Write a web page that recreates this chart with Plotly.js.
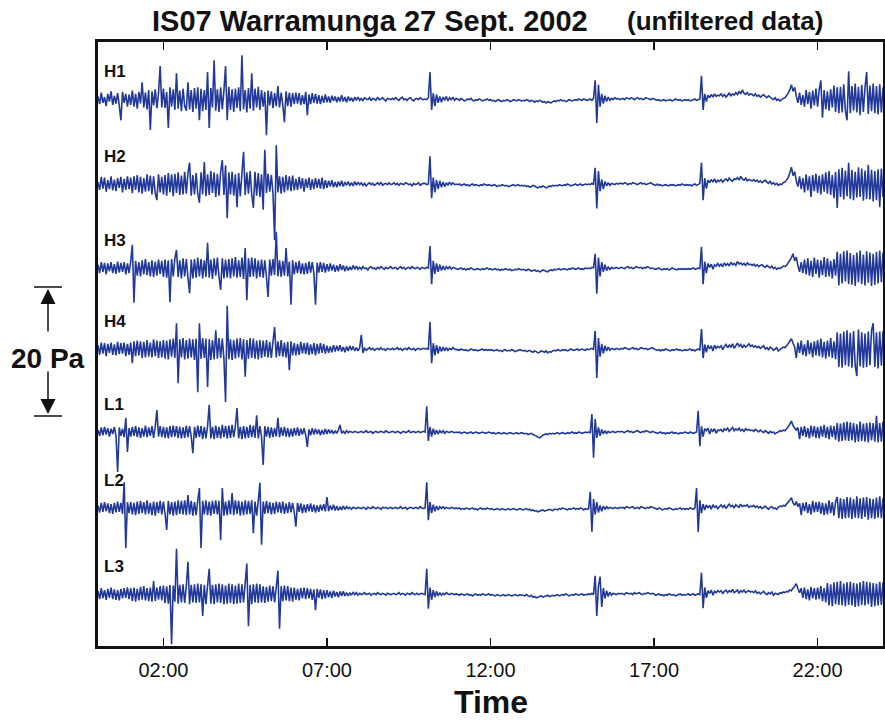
<!DOCTYPE html>
<html><head><meta charset="utf-8">
<script src="https://cdn.plot.ly/plotly-3.0.1.min.js"></script>
<style>html,body{margin:0;padding:0;background:#fff}#chart{width:885px;height:722px}</style>
</head><body><div id="chart"></div>
<script>
const channels = ['H1','H2','H3','H4','L1','L2','L3'];
const tickVals = [2,7,12,17,22];
const tickText = ['02:00','07:00','12:00','17:00','22:00'];
// Pressure traces: one row per hour (row r spans r:00 to r+1:00), values in units of 0.1 Pa
const h1 = [
[4,-8,10,-6,3,-11,8,-4,12,-9,5,-7,9,-10,-33,11,-6,8,-12,7],
[-9,13,-12,8,-15,11,-7,26,-13,10,-16,14,-48,12,-10,15,-14,9,51,-13],
[16,-14,11,-45,18,-12,15,-17,40,-15,13,-19,16,-11,-18,26,-16,14,-20,17],
[-15,18,-33,16,-19,14,-17,42,-45,17,-13,60,-18,15,-20,18,-16,13,51,-33],
[19,-17,15,-20,16,-14,18,-19,68,-16,14,-21,17,-15,40,-18,16,-13,19,-17],
[14,-12,11,-56,13,-10,12,-14,9,-11,20,-13,10,-9,-36,12,-11,10,-12,9],
[-8,10,-7,9,-9,6,-8,11,-25,7,-8,9,-6,8,-7,6,-8,5,-6,7],
[-5,4,-6,5,-3,4,-5,3,-4,6,-4,3,-5,4,-3,2,-4,3,-2,3],
[-2,1,-3,2,0,-1,2,-2,1,0,-2,3,-1,0,2,-1,-3,1,0,-1],
[1,-1,2,0,-2,1,3,-1,0,-2,1,2,-1,-3,0,1,-1,2,0,-1],
[0,-1,2,42,-17,9,-11,7,-6,4,-5,3,-2,4,-3,2,-1,3,-2,1],
[0,-2,1,-1,-3,-2,0,-1,1,-2,-3,-1,-2,0,-1,-3,-2,-1,0,-2],
[-1,-3,-2,-4,-2,-1,-3,-4,-2,-3,-1,-2,-4,-3,-1,-2,-3,-1,-2,-3],
[-2,-3,-1,-2,-4,-2,-3,-5,-3,-4,-2,-3,-5,-4,-6,-4,-5,-6,-4,-3],
[-4,-2,-3,-1,-3,-2,-4,-3,-1,-2,-3,-2,-1,-2,0,-1,-2,0,-1,-2],
[-1,0,-2,1,29,-37,22,-12,8,-7,5,-4,3,-2,1,-1,2,0,1,-1],
[0,1,-1,2,1,0,2,1,-1,1,2,0,1,-1,0,2,1,0,-1,1],
[0,-1,-2,-1,-3,-2,-1,-3,-2,-2,-1,-3,-2,0,-1,-2,-1,-3,-2,-1],
[-2,-1,-3,-2,-1,0,-2,-1,0,36,-17,8,-4,6,2,7,3,8,4,6],
[5,8,4,7,3,6,9,5,8,6,10,7,12,8,14,9,7,10,6,8],
[7,5,8,4,6,3,5,7,4,2,5,3,1,-1,2,-2,0,-3,-1,1],
[2,5,9,14,22,12,18,4,-6,10,-9,6,-12,14,-8,11,-15,13,-10,16],
[-12,15,29,-29,14,-16,12,-18,15,-13,21,-20,18,-22,19,-21,23,-19,-33,43],
[-22,20,-18,24,-21,19,-25,22,-20,18,42,-23,21,-19,24,-22,20,-24,23,-21],
[18]];
const h2 = [
[3,-9,11,-7,10,-12,6,-8,12,-10,7,-11,9,-6,11,-13,8,-9,12,-8],
[10,-14,12,-9,14,-13,11,-15,9,-12,15,-11,13,-16,12,-14,-25,15,-13,11],
[-16,14,-18,17,-13,15,-19,16,-14,18,-17,13,-16,19,-15,17,33,-18,14,-16],
[17,-15,-29,18,-16,34,-19,15,-17,20,-14,18,-20,16,-18,19,37,-17,29,-53],
[18,-16,19,-18,15,-36,17,-19,16,50,-17,18,-15,20,-16,-37,19,-18,17,-20],
[15,-40,53,-14,16,-12,14,-15,-87,60,-13,12,-15,11,-13,14,-10,12,-11,13],
[-10,8,-9,11,-7,9,-12,8,-6,10,-9,7,-8,9,-6,8,-7,10,-8,6],
[-6,5,-4,6,-5,3,-5,4,-3,5,-4,3,-2,4,-3,2,-3,4,-2,3],
[-1,2,-2,1,-3,0,2,-1,1,-2,0,2,-1,3,-2,0,1,-1,2,-1],
[0,2,-1,1,-2,1,0,-1,2,1,-1,0,-3,1,-1,0,2,-2,0,1],
[1,-1,0,43,-22,10,-13,6,-8,5,-5,3,-4,2,-2,3,-1,2,-1,0],
[-1,0,-2,-1,0,-2,-1,-3,-1,0,-2,-1,-2,-3,-1,-2,0,-1,-2,-1],
[-2,-3,-1,-2,-4,-2,-3,-1,-2,-3,-2,-4,-3,-2,-1,-3,-2,-1,-3,-2],
[-3,-2,-4,-3,-5,-4,-2,-3,-5,-6,-4,-5,-3,-4,-6,-5,-3,-4,-2,-3],
[-2,-3,-1,-2,-3,-1,-2,0,-1,-3,-2,-1,0,-2,-1,0,-2,-1,0,-1],
[0,-1,1,-1,25,-38,20,-11,7,-8,4,-3,2,-2,1,0,-1,1,0,1],
[1,0,2,1,-1,1,0,2,1,0,-1,1,2,0,1,-1,0,1,2,0],
[-1,-2,0,-2,-1,-3,-2,-1,-2,-3,-1,-2,-1,-3,-2,-1,-2,0,-1,-2],
[-1,-2,-1,-3,-1,0,-2,-1,1,33,-25,9,-7,6,2,7,3,8,2,6],
[4,7,3,6,8,5,9,6,4,8,7,10,6,12,8,6,9,5,7,6],
[5,7,4,6,3,5,2,4,6,3,1,4,0,2,-1,1,-2,0,-1,2],
[3,6,10,17,26,13,19,5,-4,12,-8,9,-13,15,-10,12,-20,14,-11,16],
[-14,13,-16,15,-12,18,-15,20,-17,14,-22,19,-37,23,-20,25,-24,21,-19,33],
[-23,22,-25,19,-21,26,-20,24,-26,21,-23,30,-24,22,-27,20,-25,23,-36,24],
[-20]];
const h3 = [
[5,-8,9,-6,8,-10,7,-5,9,-8,6,-9,10,-7,8,-6,9,-10,7,-8],
[10,36,-54,11,-12,9,-13,12,-10,14,-11,9,-13,12,-14,10,-12,13,-9,11],
[-14,13,-15,12,-53,14,-13,15,28,-14,12,-16,15,-13,14,-15,-39,13,-16,14],
[-15,16,-13,14,-16,12,-14,39,-15,13,-17,15,-12,16,-14,-34,15,-16,13,-15],
[14,-16,15,-13,17,-15,12,-14,16,-17,31,-50,15,-14,16,-13,15,-16,12,-14],
[13,-15,12,-14,-45,13,-12,14,-11,56,-13,12,-14,11,-12,31,-13,10,-57,12],
[-10,9,-8,11,-9,7,-10,8,-9,10,-7,9,-8,-57,8,-7,9,-6,8,-7],
[6,-5,7,-4,5,-6,4,-5,6,-3,4,-5,3,-4,2,-3,4,-2,3,-2],
[1,-2,2,-1,0,-3,1,2,-1,0,-2,1,-1,2,0,-2,1,-1,0,2],
[-1,0,1,-2,0,2,-1,1,-2,0,1,-1,2,0,-1,1,0,-2,1,0],
[-1,1,0,34,-25,11,-9,7,-6,5,-4,3,-3,2,-1,2,-2,1,0,-1],
[-2,-1,0,-2,-1,-3,-1,-2,0,-1,-3,-2,-1,-2,-3,-1,-2,-1,0,-2],
[-1,-3,-2,-1,-3,-2,-4,-2,-3,-1,-2,-3,-2,-4,-3,-2,-3,-1,-2,-3],
[-2,-3,-4,-2,-3,-5,-4,-3,-5,-4,-6,-5,-3,-4,-5,-6,-4,-3,-4,-2],
[-3,-2,-1,-3,-2,-1,-2,-3,-1,-2,0,-1,-2,-1,0,-2,-1,-2,0,-1],
[0,-1,1,0,22,-40,16,-13,9,-6,5,-4,2,-3,1,-1,0,1,-1,0],
[1,0,-1,1,2,0,1,-1,0,2,1,0,1,-1,1,0,2,1,-1,0],
[-1,-2,-1,0,-2,-3,-1,-2,-1,-3,-2,0,-1,-2,-3,-1,-2,-1,-2,-1],
[-2,-1,-2,-1,0,-2,-1,0,-1,33,-25,10,-8,7,1,6,-2,5,3,7],
[3,6,2,8,4,7,3,9,5,7,4,10,6,8,5,7,4,8,5,6],
[4,6,3,5,2,4,5,3,1,4,2,0,3,-1,1,-2,0,-1,1,3],
[2,4,8,12,16,22,11,17,3,-6,9,-8,13,-10,15,-12,11,-14,16,-9],
[13,-15,12,-11,17,-14,15,-13,11,-16,14,-12,25,-27,22,-24,26,-21,27,-25],
[23,-26,20,-28,24,-22,27,-25,21,-27,26,-23,24,-28,22,-26,25,-24,27,-22],
[24]];
const h4 = [
[6,-9,10,-7,9,-11,8,-6,10,-9,7,-10,11,-8,9,-7,10,-11,8,-9],
[10,-22,12,-11,13,-10,12,-14,11,-13,14,-12,10,-13,15,-11,13,-14,12,-13],
[14,-15,13,-16,15,-12,16,-14,40,-53,15,-13,17,-16,14,-15,16,-13,15,-17],
[16,-67,40,-15,17,-14,16,-59,15,-17,14,-16,29,-15,17,-14,16,-15,-82,67],
[-16,15,-17,14,-15,16,-13,17,-16,15,-43,14,-15,17,-14,16,-15,13,-16,14],
[-14,13,-12,14,-13,11,-14,12,34,-13,12,-11,14,-12,10,-13,11,-33,12,-10],
[9,-10,8,-9,11,-7,9,-8,10,-9,7,-8,9,-10,8,-7,9,-6,8,-7],
[5,-6,4,-5,6,-4,5,-3,6,-4,3,-5,4,-3,5,-2,4,-3,2,-3],
[2,22,-6,1,-2,0,2,-1,1,-2,0,1,-1,2,-1,0,-2,1,0,-1],
[1,-1,0,2,-1,1,-2,0,1,-1,2,0,-1,1,-2,0,1,-1,0,1],
[0,1,-1,42,-22,9,-10,6,-7,4,-4,3,-3,2,-2,1,-1,2,0,-1],
[-1,-2,0,-1,-2,-1,-3,-2,0,-1,-2,-1,-3,-2,-1,0,-2,-1,-2,-1],
[-2,-1,-3,-2,-1,-3,-2,-4,-2,-1,-3,-2,-3,-1,-2,-4,-3,-2,-1,-2],
[-3,-2,-4,-3,-2,-4,-5,-3,-4,-6,-5,-3,-4,-5,-3,-6,-4,-5,-3,-2],
[-3,-1,-2,-3,-1,-2,-1,-3,-2,0,-1,-2,-1,0,-2,-1,0,-1,-2,0],
[-1,0,1,-1,28,-45,17,-12,8,-7,5,-3,3,-2,1,0,-1,1,0,-1],
[1,0,2,1,0,-1,1,2,0,1,-1,0,2,1,0,1,-1,0,1,2],
[0,-1,-2,-1,-3,-1,-2,0,-1,-2,-3,-1,-2,-1,0,-2,-1,-3,-2,-1],
[-2,-1,0,-2,-1,-3,-1,0,-2,31,-14,7,-5,6,0,5,-3,6,1,4],
[2,5,-1,4,7,2,6,3,8,1,5,9,4,7,2,6,3,5,8,4],
[6,3,5,2,4,1,3,5,0,2,-1,3,1,-2,0,2,-3,-1,1,3],
[2,5,8,12,16,9,3,-14,10,-6,13,-9,7,-11,14,-8,10,-13,12,-10],
[14,-11,16,-13,11,-15,13,-12,17,-14,12,-16,26,-28,24,-29,27,-25,29,-27],
[25,-29,28,-26,-42,30,-27,26,-29,24,-28,27,-25,29,40,-28,26,-30,27,-26],
[28]];
const l1 = [
[3,-6,7,-5,8,-4,6,-7,5,-3,8,-6,-62,7,-6,5,-8,22,-31,6],
[-7,8,-6,9,-8,7,-9,6,-7,10,-8,7,-6,9,-9,8,34,-7,9,-8],
[8,-9,7,-10,9,-8,10,-7,9,-9,8,-10,7,-9,10,-8,9,-7,-33,8],
[-9,10,-8,9,-11,8,-10,9,42,-10,8,-11,10,-9,8,-10,11,-8,9,-10],
[10,-9,11,-8,9,37,-10,8,-11,9,-10,8,-9,11,-8,10,-9,26,-10,9],
[-8,-51,9,-7,8,-9,7,-8,6,-7,22,-8,7,-6,8,-7,6,-8,5,-7],
[6,-5,7,-6,5,-4,6,-5,-23,4,-5,6,-4,5,-3,4,-5,3,-4,5],
[-3,4,-2,3,-3,2,-2,3,11,-2,1,-2,2,-1,1,0,-1,1,0,-1],
[0,1,-1,0,2,-1,0,1,-2,0,1,-1,0,1,0,-1,2,0,-1,0],
[1,0,-1,1,0,-2,0,1,-1,0,2,-1,0,1,-1,0,1,-1,0,1],
[0,40,-14,8,-7,5,-4,3,-3,2,-1,2,-2,1,0,-1,1,0,-1,0],
[-1,0,-2,-1,0,-1,-2,-1,0,-2,-1,0,-1,-2,-1,0,-1,-2,-1,0],
[-1,-2,-1,-3,-2,-1,-2,-3,-1,-2,-3,-2,-1,-2,-3,-2,-1,-3,-2,-1],
[-2,-3,-2,-4,-3,-2,-4,-5,-6,-8,-9,-7,-5,-4,-3,-4,-2,-3,-2,-3],
[-2,-1,-3,-2,-1,-2,-3,-1,-2,-1,0,-2,-1,-2,0,-1,-2,-1,0,-1],
[0,-1,28,-40,20,-9,7,-6,4,-3,2,-2,1,-1,0,1,-1,0,1,0],
[1,0,-1,1,2,0,1,-1,0,1,2,0,-1,1,0,2,1,0,-1,1],
[0,-1,-2,-1,0,-2,-1,-3,-1,-2,-1,0,-2,-1,-2,-3,-1,-2,-1,0],
[-1,-2,0,-1,-2,-1,0,33,-22,9,-7,5,2,6,-3,4,1,5,-2,3],
[2,4,0,5,3,6,1,4,7,2,5,3,6,2,4,1,5,3,4,2],
[3,1,4,2,0,3,1,-1,2,0,-2,1,-1,0,-3,-1,0,2,1,3],
[2,5,8,12,17,10,6,3,7,-11,8,-6,9,-8,6,-10,10,-7,9,-9],
[8,-10,9,-7,11,-9,8,-11,10,-8,9,-12,14,-15,13,-14,15,-13,16,-14],
[15,-13,14,-16,12,-15,16,-14,13,-15,14,-16,15,-13,14,-15,25,-16,14,-15],
[16]];
const l2 = [
[4,-7,8,-6,9,-5,7,-8,6,-9,8,-7,10,-6,8,-9,40,-62,9,-8],
[9,-10,8,-11,10,-9,11,-8,9,-10,12,-9,8,-11,10,-12,9,-8,11,-10],
[10,-9,-34,11,-10,9,-12,10,-11,12,-9,11,-10,12,-11,20,-10,11,-12,9],
[-11,12,31,-62,11,-10,12,-11,10,-12,11,-9,12,-10,11,-50,31,-12,10,-11],
[12,-10,23,-11,12,-9,11,-12,10,-11,12,-10,11,-9,12,-39,10,-12,11,39],
[-57,10,-9,11,-8,9,-10,8,-9,10,-7,9,-8,10,-9,7,-8,9,-7,8],
[-7,-29,8,-6,7,-8,5,-7,6,-5,7,-6,5,-7,4,-6,5,-4,6,-5],
[17,-5,4,-3,5,-4,3,-4,2,-3,3,-2,2,-1,1,-2,1,0,-1,1],
[0,-1,1,0,-2,1,0,-1,2,0,-1,1,0,-2,1,0,1,-1,0,1],
[-1,0,1,-1,0,2,-1,0,1,-2,0,1,0,-1,1,0,-1,2,0,-1],
[0,40,-19,9,-8,5,-5,3,-3,2,-1,2,-1,1,0,-1,1,0,-1,0],
[-1,0,-2,-1,-2,0,-1,-2,-1,0,-2,-1,-3,-1,0,-2,-1,-2,0,-1],
[-2,-1,-3,-2,-1,-2,-3,-1,-2,-3,-2,-1,-3,-2,-1,-2,-3,-2,-1,-2],
[-3,-2,-1,-3,-2,-4,-3,-5,-4,-6,-5,-4,-3,-5,-4,-3,-2,-3,-4,-2],
[-2,-3,-1,-2,0,-1,-2,-3,-1,-2,-1,0,-2,-1,-2,0,-1,-3,-1,-2],
[-1,25,-37,14,-10,9,-7,4,-5,3,-2,2,-1,1,0,-1,1,0,-1,1],
[0,1,-1,2,1,0,1,2,-1,0,1,-1,2,1,0,-1,1,0,2,1],
[0,-1,-2,0,-1,-3,-2,-1,-2,0,-1,-2,-3,-1,-2,-1,0,-2,-1,-2],
[-1,-2,0,-1,-2,0,31,-37,12,-8,6,-3,5,0,4,-2,5,1,3,-1],
[2,5,1,4,-1,3,6,2,4,0,5,3,1,6,2,4,3,5,1,3],
[2,4,1,3,0,2,-1,1,3,0,-2,1,2,-1,0,-2,1,3,2,4],
[3,6,9,12,16,8,4,10,2,7,-11,8,-5,9,-8,6,-10,11,-7,9],
[-6,10,-9,8,-11,7,-10,12,-8,9,-12,10,17,-16,15,-17,14,-16,17,-15],
[16,-17,14,-15,18,-16,15,-17,16,-14,17,-18,15,-16,14,-17,16,-15,18,-16],
[15]];
const l3 = [
[5,-8,9,-7,6,-9,8,-6,10,-8,7,-9,6,-10,8,-7,9,-6,10,-8],
[9,-11,10,-12,8,-10,11,-9,12,-10,9,-11,10,-12,20,-11,10,-9,12,-10],
[13,-14,12,-15,14,-78,13,-12,70,-15,14,-13,15,-14,12,50,-16,14,-13,15],
[-14,16,-13,15,-34,14,-16,13,39,-15,14,-16,15,-13,16,-14,15,-16,13,-15],
[16,-14,15,-16,13,-15,16,-14,15,-13,16,47,-50,14,-16,15,-13,16,-14,15],
[-13,12,-14,11,-12,13,-11,12,-13,11,36,-54,12,-11,13,-10,12,-11,10,-12],
[10,-9,8,-10,9,-7,10,-8,9,-7,8,-9,7,-25,8,-6,7,-8,6,-7],
[6,-5,4,-6,5,-4,3,-5,4,-3,4,-3,2,-3,2,-2,3,-1,2,-2],
[1,-1,0,2,-1,0,1,-2,0,1,-1,2,0,-1,1,0,-2,1,0,-1],
[0,1,-1,0,2,-1,1,0,-2,1,0,-1,2,0,-1,1,-1,0,1,0],
[-1,39,-23,10,-9,6,-5,4,-3,2,-2,1,-1,2,0,-1,1,0,-1,0],
[-1,-2,0,-1,-2,-1,0,-2,-1,-3,-1,0,-2,-1,-2,0,-1,-2,-1,0],
[-2,-1,-2,-3,-1,-2,-3,-2,-1,-3,-2,-1,-2,-3,-2,-1,-2,-3,-1,-2],
[-2,-3,-1,-3,-4,-2,-5,-4,-6,-5,-4,-3,-5,-4,-3,-2,-4,-3,-2,-3],
[-2,-1,-3,-2,-1,-2,0,-1,-3,-2,-1,-2,0,-1,-2,-1,0,-2,-1,-1],
[0,-1,1,-1,28,-34,12,27,-20,9,-7,5,-4,3,-2,1,0,-1,1,0],
[1,0,-1,2,1,0,1,-1,2,0,1,2,0,-1,1,0,2,1,0,1],
[0,-2,-1,0,-2,-1,-3,-1,-2,0,-1,-2,-1,-3,-2,-1,0,-2,-1,-2],
[-1,0,-2,-1,0,-2,-1,0,-1,33,-22,10,-6,5,1,6,-2,4,2,5],
[3,5,1,4,6,2,5,3,7,2,4,6,1,5,3,6,2,4,5,3],
[4,2,5,1,3,0,2,4,1,-1,2,0,3,-2,1,0,-1,2,1,3],
[2,4,3,6,5,9,12,16,8,2,9,-6,10,-8,7,-10,11,-7,9,-9],
[10,-8,12,-11,9,-13,17,-18,15,-19,18,-16,19,-17,20,-18,16,-19,18,-17],
[19,-18,17,-20,16,-19,18,-17,20,-18,19,-16,18,-20,17,-19,16,-18,19,-17],
[18]];

const series = [h1,h2,h3,h4,l1,l2,l3];
const offsets = [0,-13.18,-26.2,-38.76,-51.63,-63.41,-76.74]; // stacking of channels, Pa
const lineColor = '#22399a';

const traces = series.map((rows,k)=>{
  const x=[], y=[];
  rows.forEach((row,r)=>row.forEach((v,j)=>{ x.push(r + j/row.length); y.push(offsets[k] + v*0.1); }));
  return {type:'scatter', mode:'lines', x, y, name:channels[k],
    line:{color:lineColor, width:1.6, simplify:false}, hoverinfo:'skip', showlegend:false};
});

// pixel helpers for decorations in the left margin
const L=98, T=42, W=785, H=604;
const px = v => (v-L)/W;
const py = v => (T+H-v)/H;

const annotations = channels.map((c,k)=>({
  text:'<b>'+c+'</b>', xref:'paper', yref:'y', x:px(102), y:offsets[k]+4.3,
  xanchor:'left', yanchor:'middle', showarrow:false, font:{size:17, color:'#111'}
}));
annotations.push(
  {text:'<b>IS07 Warramunga 27 Sept. 2002</b>', xref:'paper', yref:'paper', x:px(370), y:py(21),
   xanchor:'center', yanchor:'middle', showarrow:false, font:{size:29, color:'#111'}},
  {text:'<b>(unfiltered data)</b>', xref:'paper', yref:'paper', x:px(725), y:py(21),
   xanchor:'center', yanchor:'middle', showarrow:false, font:{size:26, color:'#111'}},
  {text:'<b>Time</b>', xref:'paper', yref:'paper', x:0.5, y:py(702),
   xanchor:'center', yanchor:'middle', showarrow:false, font:{size:32, color:'#111'}},
  {text:'<b>20 Pa</b>', xref:'paper', yref:'paper', x:px(47.5), y:py(358),
   xanchor:'center', yanchor:'middle', showarrow:false, font:{size:28, color:'#111'}},
  {text:'', xref:'paper', yref:'paper', x:px(48), y:py(289), ax:0, ay:44,
   showarrow:true, arrowhead:2, arrowsize:2, arrowwidth:1.5, arrowcolor:'#111', standoff:0},
  {text:'', xref:'paper', yref:'paper', x:px(48), y:py(414), ax:0, ay:-44,
   showarrow:true, arrowhead:2, arrowsize:2, arrowwidth:1.5, arrowcolor:'#111', standoff:0}
);

const shapes = [
  {type:'line', xref:'paper', yref:'paper', x0:px(34), x1:px(62), y0:py(287), y1:py(287), line:{color:'#111', width:1.5}},
  {type:'line', xref:'paper', yref:'paper', x0:px(34), x1:px(62), y0:py(416), y1:py(416), line:{color:'#111', width:1.5}}
];

const layout = {
  width:885, height:722, margin:{l:L, r:2, t:T, b:722-T-H},
  paper_bgcolor:'#fff', plot_bgcolor:'#fff', showlegend:false,
  font:{family:'Liberation Sans, Arial, Helvetica, sans-serif', color:'#111'},
  xaxis:{range:[0,24], tickmode:'array', tickvals:tickVals, ticktext:tickText,
    ticks:'inside', ticklen:8, tickwidth:1.5, tickcolor:'#111',
    showline:true, linewidth:3, linecolor:'#111', mirror:'ticks',
    showgrid:false, zeroline:false, tickfont:{size:20, color:'#111'}, ticklabelstandoff:4},
  yaxis:{range:[-84.81, 8.84], showline:true, linewidth:3, linecolor:'#111', mirror:true,
    showgrid:false, zeroline:false, showticklabels:false, ticks:''},
  shapes, annotations
};

Plotly.newPlot('chart', traces, layout, {displayModeBar:false, staticPlot:true});
</script>
</body></html>
